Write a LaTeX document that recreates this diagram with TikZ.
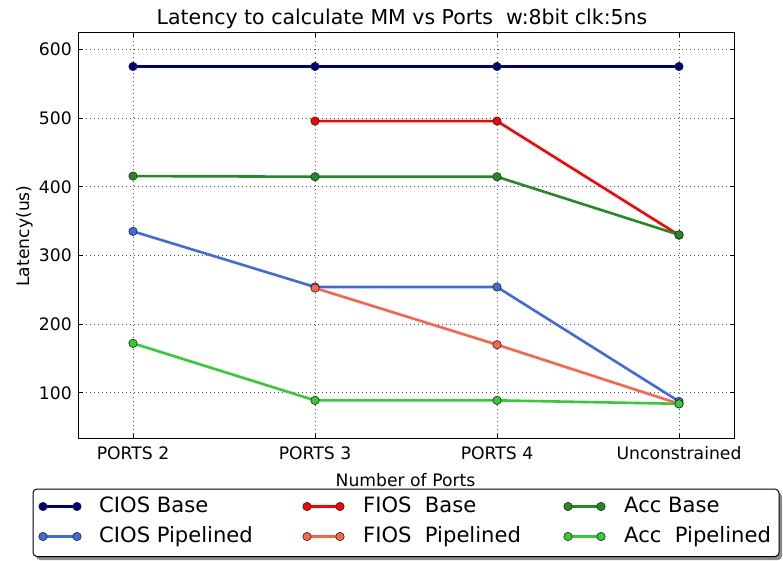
\documentclass[tikz,border=0pt]{standalone}
\usepackage{fontspec}
\setmainfont{DejaVu Sans}
\definecolor{cNavy}{RGB}{0,0,128}
\definecolor{cRoyal}{RGB}{65,105,225}
\definecolor{cRed}{RGB}{255,0,0}
\definecolor{cTomato}{RGB}{255,99,71}
\definecolor{cForest}{RGB}{34,139,34}
\definecolor{cLime}{RGB}{50,205,50}
% latency value -> vertical pixel position
\newcommand\latpx[1]{461.5-0.687*#1}
\begin{document}
\begin{tikzpicture}[x=1pt,y=-1pt,
  gridline/.style={black!70,line width=0.7pt,dash pattern=on 1pt off 3pt},
  spine/.style={black,line width=1pt},
  tickmark/.style={black,line width=0.9pt},
  ticklabel/.style={inner sep=0pt,font=\fontsize{17.2}{20}\selectfont},
  serieline/.style={line width=2.6pt,line join=round},
  dot/.style={circle,draw=black!85,line width=0.6pt,inner sep=0pt,minimum size=8.4pt,fill=#1},
  legtext/.style={anchor=base west,inner sep=0pt,font=\fontsize{21.1}{24}\selectfont}]
\useasboundingbox (0,0) rectangle (783,561);
\fill[white] (0,0) rectangle (783,561);

% axes frame corners
\coordinate (axNW) at (78.3,33);
\coordinate (axSE) at (734.3,438);

% vertical grid lines and category ticks
\foreach \xx/\lab/\nm in {133/PORTS 2/p2,315/PORTS 3/p3,497/PORTS 4/p4,679/Unconstrained/pu}{
  \draw[gridline] (\xx,33) -- (\xx,438);
  \draw[tickmark] (\xx,438) -- (\xx,433.5);
  \draw[tickmark] (\xx,33) -- (\xx,37.5);
  \node[ticklabel,anchor=base] (xt\nm) at (\xx,459) {\lab};
}
% horizontal grid lines and value ticks
\foreach \vv in {100,200,300,400,500,600}{
  \draw[gridline] (78.3,{\latpx{\vv}}) -- (734.3,{\latpx{\vv}});
  \draw[tickmark] (78.3,{\latpx{\vv}}) -- (82.8,{\latpx{\vv}});
  \draw[tickmark] (734.3,{\latpx{\vv}}) -- (729.8,{\latpx{\vv}});
  \node[ticklabel,anchor=base east] (yt\vv) at (72,{\latpx{\vv}+6.5}) {\vv};
}

% data points
\foreach \nm/\a/\b/\c/\d in {cb/575/575/575/575, cp/335/254/254/87.5, ab/415.5/414.5/414.5/330, ap/172/89/89/84}{
  \coordinate (\nm1) at (133,{\latpx{\a}});
  \coordinate (\nm2) at (315,{\latpx{\b}});
  \coordinate (\nm3) at (497,{\latpx{\c}});
  \coordinate (\nm4) at (679,{\latpx{\d}});
}
\foreach \nm/\b/\c/\d in {fb/495.5/495.5/329.5, fp/252.5/170/84}{
  \coordinate (\nm2) at (315,{\latpx{\b}});
  \coordinate (\nm3) at (497,{\latpx{\c}});
  \coordinate (\nm4) at (679,{\latpx{\d}});
}

% CIOS Base
\draw[serieline,cNavy] (cb1) -- (cb2) -- (cb3) -- (cb4);
\foreach \i in {1,...,4} \node[dot=cNavy] (mcb\i) at (cb\i) {};
% CIOS Pipelined
\draw[serieline,cRoyal] (cp1) -- (cp2) -- (cp3) -- (cp4);
\foreach \i in {1,...,4} \node[dot=cRoyal] (mcp\i) at (cp\i) {};
% FIOS Base
\draw[serieline,cRed] (fb2) -- (fb3) -- (fb4);
\foreach \i in {2,...,4} \node[dot=cRed] (mfb\i) at (fb\i) {};
% FIOS Pipelined
\draw[serieline,cTomato] (fp2) -- (fp3) -- (fp4);
\foreach \i in {2,...,4} \node[dot=cTomato] (mfp\i) at (fp\i) {};
% Acc Base
\draw[serieline,cForest] (ab1) -- (ab2) -- (ab3) -- (ab4);
\foreach \i in {1,...,4} \node[dot=cForest] (mab\i) at (ab\i) {};
% Acc Pipelined
\draw[serieline,cLime] (ap1) -- (ap2) -- (ap3) -- (ap4);
\foreach \i in {1,...,4} \node[dot=cLime] (map\i) at (ap\i) {};

% frame
\draw[spine] (axNW) rectangle (axSE);

% titles
\node[inner sep=0pt,anchor=base,font=\fontsize{20.5}{24}\selectfont] (title) at (402,25)
  {Latency to calculate MM vs Ports\ \ w:8bit clk:5ns};
\node[inner sep=0pt,anchor=base,font=\fontsize{17.2}{20}\selectfont] (xlabel) at (405.5,486) {Number of Ports};
\node[inner sep=0pt,anchor=base,rotate=90,font=\fontsize{17.2}{20}\selectfont] (ylabel) at (29,236) {Latency(us)};

% legend with drop shadow
\fill[black!45,rounded corners=4pt] (36,492.5) rectangle (782,560);
\draw[black,line width=1pt,fill=white,rounded corners=4pt] (33,489) rectangle (779,556.5);
\foreach \xa/\xb/\tx/\yy/\col/\nm in {
   43/77/{CIOS Base}/506.5/cNavy/lcb,
   43/77/{CIOS Pipelined}/536.5/cRoyal/lcp,
   307/340/{FIOS\ \ Base}/506.5/cRed/lfb,
   307/340/{FIOS\ \ Pipelined}/536.5/cTomato/lfp,
   568/601/{Acc Base}/506.5/cForest/lab,
   568/601/{Acc\ \ Pipelined}/536.5/cLime/lap}{
  \coordinate (\nm a) at (\xa,\yy);
  \coordinate (\nm b) at (\xb,\yy);
  \draw[line width=2.4pt,\col] (\nm a) -- (\nm b);
  \node[dot=\col] (\nm ma) at (\nm a) {};
  \node[dot=\col] (\nm mb) at (\nm b) {};
  \node[legtext] (\nm t) at (\xa+56,\yy+6) {\tx};
}
\end{tikzpicture}
\end{document}
